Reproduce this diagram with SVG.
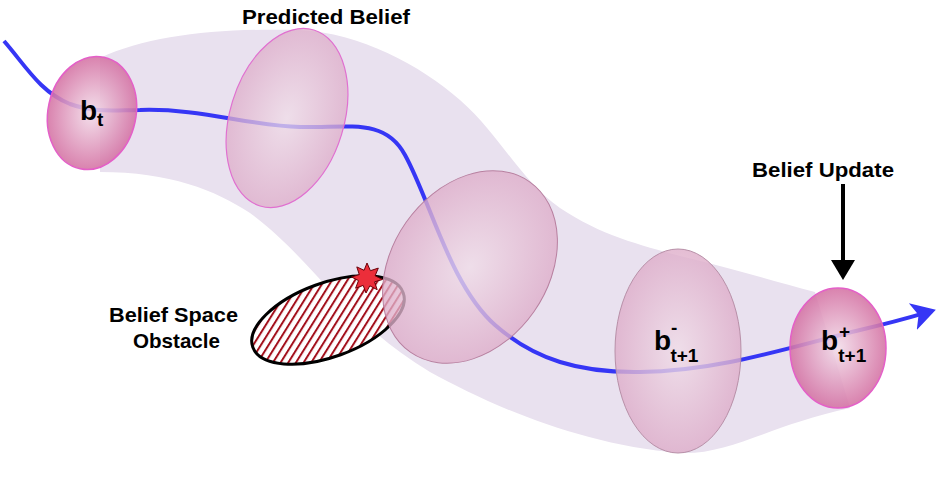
<svg xmlns="http://www.w3.org/2000/svg" width="947" height="496" viewBox="0 0 947 496">
<defs>
  <style>
    .lbl{font-family:"Liberation Sans",Arial,sans-serif;font-weight:bold;fill:#000}
    .big{font-size:28px}
    .sub{font-size:19px}
    .cap{font-size:21px}
  </style>
  <radialGradient id="gStrong" cx="50%" cy="50%" r="55%">
    <stop offset="0" stop-color="#f2dce9"/>
    <stop offset="1" stop-color="#d1679c"/>
  </radialGradient>
  <radialGradient id="gLight" cx="50%" cy="50%" r="55%">
    <stop offset="0" stop-color="#f0dde8"/>
    <stop offset="1" stop-color="#dca8c6"/>
  </radialGradient>
  <pattern id="hatch" patternUnits="userSpaceOnUse" width="6.5" height="6.5" patternTransform="rotate(52)">
    <rect width="6.5" height="6.5" fill="#fff"/>
    <rect width="2" height="6.5" fill="#a3101c"/>
  </pattern>
  <marker id="blueHead" markerWidth="8" markerHeight="8" refX="5" refY="4" orient="auto" markerUnits="strokeWidth">
    <path d="M0,0.5 L6,4 L0,7.5 L1.5,4 Z" fill="#3636f5"/>
  </marker>
  <marker id="blackHead" markerWidth="6" markerHeight="6" refX="4" refY="3" orient="auto" markerUnits="strokeWidth">
    <path d="M0,0 L5,3 L0,6 Z" fill="#000"/>
  </marker>
</defs>
<rect width="947" height="496" fill="#fff"/>

<g id="band">
  <path d="M100,58 C150,35 220,28 300,30 C360,33 420,65 460,100 C500,135 520,180 560,208 C600,235 640,245 680,256 C730,268 770,280 815,292 L850,408 C770,425 730,455 680,453 C580,445 490,405 430,372 C390,348 360,320 330,290 C300,258 280,235 250,213 C215,190 170,172 100,172 Z" fill="#e9e1ef"/>
</g>

<g id="connectors">
  <path d="M4,41 C25,65 40,92 70,104 C95,113 115,110 140,110 C200,108 250,126 300,127 C350,128 385,118 405,155 C430,200 450,285 495,325 C535,360 580,373 640,372 C720,371 790,347 860,330 C895,322 915,316 932,311" fill="none" stroke="#3636f5" stroke-width="4" marker-end="url(#blueHead)"/>
  <line x1="843" y1="184" x2="843" y2="276" stroke="#000" stroke-width="4" marker-end="url(#blackHead)"/>
</g>

<g id="obstacle">
  <ellipse cx="328" cy="320" rx="80" ry="37" transform="rotate(-20 328 320)" fill="url(#hatch)" stroke="#000" stroke-width="3"/>
</g>

<g id="b_t">
  <ellipse cx="92" cy="113" rx="44" ry="57" transform="rotate(12 92 113)" fill="url(#gStrong)" fill-opacity="0.88" stroke="#e45fc8" stroke-width="1.5"/>
  <text class="lbl big" x="80" y="120">b<tspan class="sub" dy="6">t</tspan></text>
</g>

<g id="predicted">
  <ellipse cx="287" cy="118" rx="57" ry="92" transform="rotate(17 287 118)" fill="url(#gLight)" fill-opacity="0.75" stroke="#e070d0" stroke-width="1.2"/>
</g>

<g id="middle">
  <ellipse cx="470" cy="267" rx="78" ry="104" transform="rotate(35 470 267)" fill="url(#gLight)" fill-opacity="0.78" stroke="#b880a0" stroke-width="1"/>
</g>

<g id="star">
  <polygon points="367,263 370.4,270.7 378.3,268.1 375.1,275.8 382.5,279.5 374.5,281.8 377.2,289.7 369.8,285.8 366,293 363.2,285.4 355.6,288.2 358.5,280.6 351.5,277 359.3,274.6 356.8,266.9 364.1,270.3" fill="#ec2e3a" stroke="#6a0008" stroke-width="1"/>
</g>

<g id="b_minus">
  <ellipse cx="678" cy="351" rx="63" ry="102" fill="url(#gLight)" fill-opacity="0.8" stroke="#b890a8" stroke-width="1"/>
  <text class="lbl big" x="654" y="350">b<tspan class="sub" dy="-16">-</tspan><tspan class="sub" dx="-7" dy="28">t+1</tspan></text>
</g>

<g id="b_plus">
  <ellipse cx="838" cy="348" rx="48" ry="60" fill="url(#gStrong)" fill-opacity="0.88" stroke="#e45fc8" stroke-width="1.5"/>
  <text class="lbl big" x="821" y="350">b<tspan class="sub" dx="1" dy="-12">+</tspan><tspan class="sub" dx="-12" dy="24">t+1</tspan></text>
</g>

<g id="labels">
  <text class="lbl cap" x="242" y="24" textLength="168" lengthAdjust="spacingAndGlyphs">Predicted Belief</text>
  <text class="lbl cap" x="752" y="177" textLength="142" lengthAdjust="spacingAndGlyphs">Belief Update</text>
  <text class="lbl cap" x="109" y="322" textLength="129" lengthAdjust="spacingAndGlyphs">Belief Space</text>
  <text class="lbl cap" x="133" y="348" textLength="87" lengthAdjust="spacingAndGlyphs">Obstacle</text>
</g>
</svg>
